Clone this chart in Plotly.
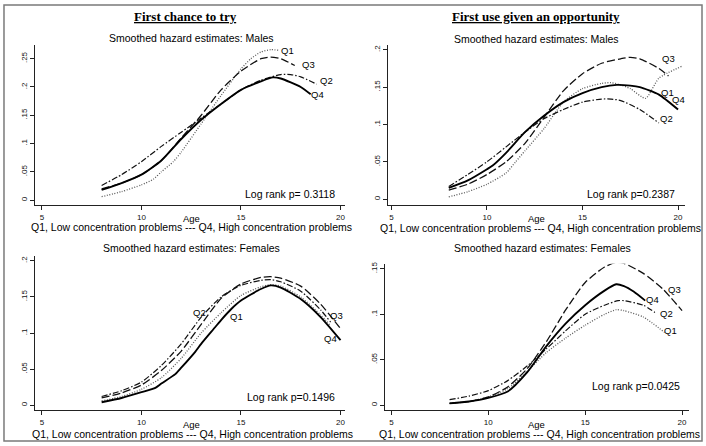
import plotly.graph_objects as go

W, H = 706, 446

# ---------------- data ----------------
# Top-left: First chance to try, Males
tl_q1_age = [8, 9, 10, 10.6, 11, 11.6, 12, 13, 14, 15, 15.5, 16, 16.5, 16.9]
tl_q1_val = [0.006, 0.015, 0.027, 0.037, 0.05, 0.068, 0.085, 0.135, 0.185, 0.232, 0.25, 0.262, 0.266, 0.265]
tl_q2_age = [8, 9, 10, 11, 12, 13, 14, 15, 16, 17, 17.5, 18, 18.8]
tl_q2_val = [0.026, 0.045, 0.068, 0.095, 0.12, 0.145, 0.17, 0.195, 0.212, 0.222, 0.222, 0.218, 0.205]
tl_q3_age = [8, 9, 10, 11, 12, 13, 14, 15, 16, 16.5, 17, 17.7]
tl_q3_val = [0.02, 0.03, 0.045, 0.07, 0.11, 0.15, 0.195, 0.228, 0.25, 0.253, 0.25, 0.238]
tl_q4_age = [8, 9, 10, 11, 12, 13, 14, 15, 16, 16.6, 17, 18, 18.5]
tl_q4_val = [0.018, 0.03, 0.045, 0.07, 0.108, 0.142, 0.17, 0.195, 0.21, 0.217, 0.215, 0.2, 0.187]

# Top-right: First use given an opportunity, Males
tr_q1_age = [8, 9, 10, 11, 11.5, 12, 13, 14, 15, 16, 16.5, 17, 17.5, 18.3, 19, 20.2]
tr_q1_val = [0.003, 0.01, 0.02, 0.035, 0.05, 0.065, 0.095, 0.13, 0.148, 0.155, 0.156, 0.153, 0.148, 0.135, 0.162, 0.178]
tr_q2_age = [8, 9, 10, 11, 12, 13, 14, 15, 16, 16.5, 17, 18, 19]
tr_q2_val = [0.017, 0.033, 0.05, 0.07, 0.09, 0.108, 0.12, 0.13, 0.134, 0.134, 0.132, 0.12, 0.102]
tr_q3_age = [8, 9, 10, 11, 12, 13, 14, 15, 16, 17, 17.5, 18, 19, 19.5]
tr_q3_val = [0.012, 0.02, 0.033, 0.05, 0.075, 0.11, 0.145, 0.168, 0.182, 0.188, 0.19, 0.188, 0.175, 0.165]
tr_q4_age = [8, 9, 10, 10.3, 11, 12, 13, 14, 15, 16, 16.8, 17.5, 18, 19, 20]
tr_q4_val = [0.015, 0.025, 0.04, 0.045, 0.062, 0.09, 0.112, 0.13, 0.142, 0.15, 0.153, 0.152, 0.15, 0.14, 0.12]

# Bottom-left: First chance to try, Females
bl_q1_age = [8, 9, 10, 11, 12, 13, 14, 15, 16, 16.5, 17, 18, 19, 19.5]
bl_q1_val = [0.006, 0.012, 0.022, 0.038, 0.065, 0.1, 0.128, 0.152, 0.164, 0.167, 0.165, 0.15, 0.125, 0.11]
bl_q2_age = [8, 9, 10, 11, 12, 13, 14, 15, 16, 16.5, 17, 18, 19, 19.5]
bl_q2_val = [0.012, 0.02, 0.032, 0.055, 0.085, 0.122, 0.15, 0.166, 0.173, 0.174, 0.171, 0.158, 0.132, 0.115]
bl_q3_age = [8, 9, 10, 11, 12, 13, 14, 15, 16, 16.5, 17, 18, 19, 20]
bl_q3_val = [0.01, 0.017, 0.028, 0.048, 0.075, 0.112, 0.148, 0.168, 0.177, 0.178, 0.176, 0.165, 0.14, 0.106]
bl_q4_age = [8, 9, 10, 10.7, 11, 11.7, 12, 12.7, 13, 13.7, 14, 14.5, 15, 16, 16.5, 17, 18, 19, 20]
bl_q4_val = [0.004, 0.01, 0.018, 0.024, 0.03, 0.043, 0.052, 0.074, 0.085, 0.108, 0.118, 0.133, 0.145, 0.161, 0.166, 0.163, 0.147, 0.122, 0.09]

# Bottom-right: First use given an opportunity, Females
br_q1_age = [8, 9, 10, 11, 12, 13, 14, 15, 16, 16.6, 17, 18, 19.1]
br_q1_val = [0.002, 0.004, 0.009, 0.018, 0.037, 0.058, 0.074, 0.088, 0.1, 0.105, 0.104, 0.097, 0.08]
br_q2_age = [8, 9, 10, 11, 12, 13, 14, 15, 16, 16.7, 17, 18, 18.6]
br_q2_val = [0.006, 0.01, 0.016, 0.027, 0.043, 0.062, 0.082, 0.1, 0.11, 0.115, 0.115, 0.11, 0.102]
br_q3_age = [8, 9, 10, 11, 12, 13, 14, 15, 16, 16.6, 17, 18, 19, 20]
br_q3_val = [0.002, 0.004, 0.009, 0.02, 0.04, 0.07, 0.105, 0.135, 0.152, 0.157, 0.156, 0.145, 0.128, 0.104]
br_q4_age = [8, 9, 10, 11, 12, 13, 14, 15, 16, 16.6, 17, 17.5, 18.1]
br_q4_val = [0.002, 0.004, 0.008, 0.015, 0.036, 0.065, 0.09, 0.11, 0.126, 0.133, 0.131, 0.125, 0.115]

x_ticks = [5, 10, 15, 20]
y_ticks_tl = [0, 0.05, 0.1, 0.15, 0.2, 0.25]
y_text_tl = ["0", ".05", ".1", ".15", ".2", ".25"]
y_ticks_tr = [0, 0.05, 0.1, 0.15, 0.2]
y_text_tr = ["0", ".05", ".1", ".15", ".2"]
y_ticks_bl = [0, 0.05, 0.1, 0.15, 0.2]
y_text_bl = ["0", ".05", ".1", ".15", ".2"]
y_ticks_br = [0, 0.05, 0.1, 0.15]
y_text_br = ["0", ".05", ".1", ".15"]

col_titles = ["First chance to try", "First use given an opportunity"]
sub_titles = ["Smoothed hazard estimates: Males", "Smoothed hazard estimates: Females"]
note = "Q1, Low concentration problems --- Q4, High concentration problems"
log_rank = ["Log rank p= 0.3118", "Log rank p=0.2387", "Log rank p=0.1496", "Log rank p=0.0425"]

# ---------------- styles ----------------
FONT = "Liberation Sans, Arial, sans-serif"
styles = {
    "Q1": dict(color="#5a5a5a", width=1.3, dash="1px,1.6px"),
    "Q2": dict(color="#111", width=1.2, dash="6px,2px,1.5px,2px"),
    "Q3": dict(color="#111", width=1.3, dash="8px,3px"),
    "Q4": dict(color="#000", width=1.9, dash="solid"),
}

def px(x):
    return x / W

def py(y):
    return 1 - y / H

fig = go.Figure()

panels = [
    ("1", [(tl_q1_age, tl_q1_val), (tl_q2_age, tl_q2_val), (tl_q3_age, tl_q3_val), (tl_q4_age, tl_q4_val)],
     (35, 345), (43, 204), [4.65, 20.2], [-0.0088, 0.2746], y_ticks_tl, y_text_tl),
    ("2", [(tr_q1_age, tr_q1_val), (tr_q2_age, tr_q2_val), (tr_q3_age, tr_q3_val), (tr_q4_age, tr_q4_val)],
     (389, 686), (43, 204), [4.843, 20.366], [-0.008, 0.2067], y_ticks_tr, y_text_tr),
    ("3", [(bl_q1_age, bl_q1_val), (bl_q2_age, bl_q2_val), (bl_q3_age, bl_q3_val), (bl_q4_age, bl_q4_val)],
     (35, 345), (255, 410), [4.65, 20.2], [-0.0069, 0.2069], y_ticks_bl, y_text_bl),
    ("4", [(br_q1_age, br_q1_val), (br_q2_age, br_q2_val), (br_q3_age, br_q3_val), (br_q4_age, br_q4_val)],
     (386, 690), (263, 410), [4.69, 20.36], [-0.0055, 0.1555], y_ticks_br, y_text_br),
]

for name, series, xd, yd, xr, yr, yt, ytt in panels:
    xa = "x" if name == "1" else "x" + name
    ya = "y" if name == "1" else "y" + name
    for q, (ages, vals) in zip(["Q1", "Q2", "Q3", "Q4"], series):
        fig.add_trace(go.Scatter(x=ages, y=vals, mode="lines", line=dict(shape="spline", smoothing=0.6, **styles[q]),
                                 xaxis=xa, yaxis=ya, showlegend=False, hoverinfo="skip"))
    axis_common = dict(showgrid=False, zeroline=False, showline=True, linecolor="#222", linewidth=1,
                       ticks="outside", ticklen=4, tickcolor="#222", tickwidth=1,
                       tickfont=dict(family=FONT, size=8, color="#111"))
    fig.layout["xaxis" if name == "1" else "xaxis" + name] = dict(
        domain=[px(xd[0]), px(xd[1])], range=xr, tickvals=x_ticks, ticktext=[str(t) for t in x_ticks],
        anchor=ya, **axis_common)
    fig.layout["yaxis" if name == "1" else "yaxis" + name] = dict(
        domain=[py(yd[1]), py(yd[0])], range=yr, tickvals=yt, ticktext=ytt, tickangle=-90,
        anchor=xa, **axis_common)

ann = []
def text(x, y, s, size=10.5, xanchor="center", family=FONT):
    ann.append(dict(x=px(x), y=py(y), xref="paper", yref="paper", text=s, showarrow=False,
                    xanchor=xanchor, yanchor="middle", font=dict(family=family, size=size, color="#000")))

text(186, 15, "<b><u>" + col_titles[0] + "</u></b>", size=13, family="Liberation Serif, Times New Roman, serif")
text(537, 15, "<b><u>" + col_titles[1] + "</u></b>", size=13, family="Liberation Serif, Times New Roman, serif")
text(192, 36, sub_titles[0]); text(537, 37, sub_titles[0])
text(192, 247, sub_titles[1]); text(543, 247, sub_titles[1])
for (x, y) in [(192, 217), (537, 217), (192, 424), (537, 424)]:
    text(x, y, "Age", size=9.5)
for (x, y) in [(192, 226), (541, 227), (193, 434), (540, 434)]:
    text(x, y, note)
text(337, 193, log_rank[0], xanchor="right")
text(678, 193, log_rank[1], xanchor="right")
text(337, 397, log_rank[2], xanchor="right")
text(683, 386, log_rank[3], xanchor="right")
qlab = [("Q1", 288, 49), ("Q3", 309, 63), ("Q2", 327, 79), ("Q4", 318, 93),
        ("Q3", 669, 57), ("Q1", 668, 91), ("Q4", 679, 98), ("Q2", 667, 117),
        ("Q2", 200, 312), ("Q1", 237, 316), ("Q3", 337, 315), ("Q4", 331, 338),
        ("Q3", 675, 289), ("Q4", 653, 299), ("Q2", 667, 313), ("Q1", 671, 330)]
for s, x, y in qlab:
    text(x, y, s, size=9.5)

fig.update_layout(
    width=W, height=H, margin=dict(l=0, r=0, t=0, b=0),
    paper_bgcolor="white", plot_bgcolor="white", annotations=ann,
    shapes=[dict(type="rect", xref="paper", yref="paper", x0=px(4), x1=px(703), y0=py(441), y1=py(3),
                 line=dict(color="#7a7a7a", width=1.5), fillcolor="rgba(0,0,0,0)", layer="below")],
)

fig.write_html("out.html", config={"displayModeBar": False, "staticPlot": True},
               post_script="document.body.style.margin='0';document.body.style.padding='0';")
